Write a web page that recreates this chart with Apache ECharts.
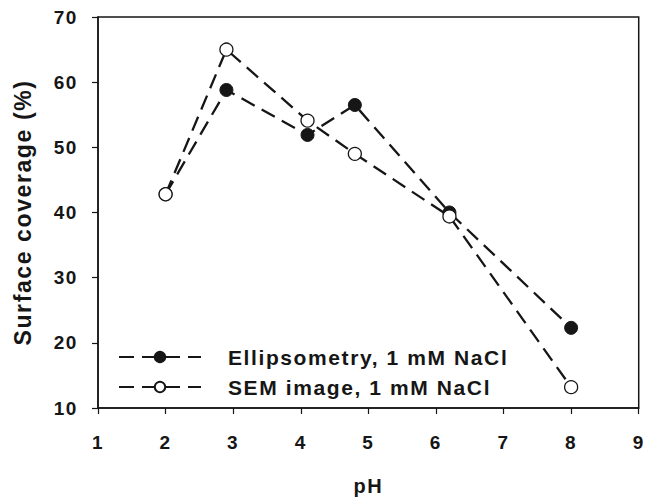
<!DOCTYPE html>
<html>
<head>
<meta charset="utf-8">
<title>Surface coverage vs pH</title>
<script src="https://cdn.jsdelivr.net/npm/echarts@6/dist/echarts.min.js"></script>
<style>
  html, body { margin: 0; padding: 0; background: #fff; }
  #chart { width: 647px; height: 503px; }
  /* SigmaPlot-style wide tracking on all texts */
  #chart text { letter-spacing: 1.6px; }
</style>
</head>
<body>
<div id="chart"></div>
<script>
// 数据
var phValues = [2, 2.9, 4.1, 4.8, 6.2, 8];
var ellipsometry = [42.8, 58.8, 51.9, 56.5, 40.0, 22.3];
var semImage = [42.8, 65.0, 54.1, 49.0, 39.4, 13.2];
var seriesNames = ['Ellipsometry, 1 mM NaCl', 'SEM image, 1 mM NaCl'];

(function() {
  var myChart = echarts.init(document.getElementById('chart'), null, { renderer: 'svg' });
  var ink = '#161616';
  var font = "'Liberation Sans', Arial, sans-serif";

  function pairs(ys) {
    return phValues.map(function(x, i) { return [x, ys[i]]; });
  }

  var option = {
    animation: false,
    grid: {
      left: 98,
      top: 17,
      right: 5,
      bottom: 95,
      show: true,
      borderColor: ink,
      borderWidth: 1.5
    },
    legend: {
      orient: 'vertical',
      left: 113,
      top: 341,
      itemWidth: 82,
      itemHeight: 13,
      itemGap: 8,
      data: seriesNames,
      textStyle: {
        color: ink,
        fontFamily: font,
        fontWeight: 'bold',
        fontSize: 21,
        lineHeight: 22,
        padding: [0, 0, 0, 22]
      }
    },
    xAxis: {
      type: 'value',
      min: 1,
      max: 9,
      interval: 1,
      name: 'pH',
      nameLocation: 'middle',
      nameGap: 68,
      nameTextStyle: { color: ink, fontFamily: font, fontWeight: 'bold', fontSize: 20 },
      axisLine: { lineStyle: { color: ink, width: 1.5 } },
      axisTick: { inside: false, length: 6, lineStyle: { color: ink, width: 1.2 } },
      axisLabel: { color: ink, fontFamily: font, fontWeight: 'bold', fontSize: 19, margin: 25 },
      splitLine: { show: false }
    },
    yAxis: {
      type: 'value',
      min: 10,
      max: 70,
      interval: 10,
      name: 'Surface coverage (%)',
      nameLocation: 'middle',
      nameGap: 64,
      nameTextStyle: { color: ink, fontFamily: font, fontWeight: 'bold', fontSize: 23 },
      axisLine: { lineStyle: { color: ink, width: 1.5 } },
      axisTick: { inside: false, length: 6, lineStyle: { color: ink, width: 1.2 } },
      axisLabel: { color: ink, fontFamily: font, fontWeight: 'bold', fontSize: 19, margin: 20 },
      splitLine: { show: false }
    },
    series: [
      {
        name: seriesNames[0],
        type: 'line',
        data: pairs(ellipsometry),
        symbol: 'circle',
        symbolSize: 13,
        itemStyle: { color: ink, borderColor: ink, borderWidth: 1 },
        lineStyle: { color: ink, width: 2.3, type: [15, 8] }
      },
      {
        name: seriesNames[1],
        type: 'line',
        data: pairs(semImage),
        symbol: 'circle',
        symbolSize: 13,
        itemStyle: { color: '#fff', borderColor: ink, borderWidth: 1.3 },
        lineStyle: { color: ink, width: 2.3, type: [15, 8] }
      }
    ]
  };

  myChart.setOption(option);
})();
</script>
</body>
</html>
